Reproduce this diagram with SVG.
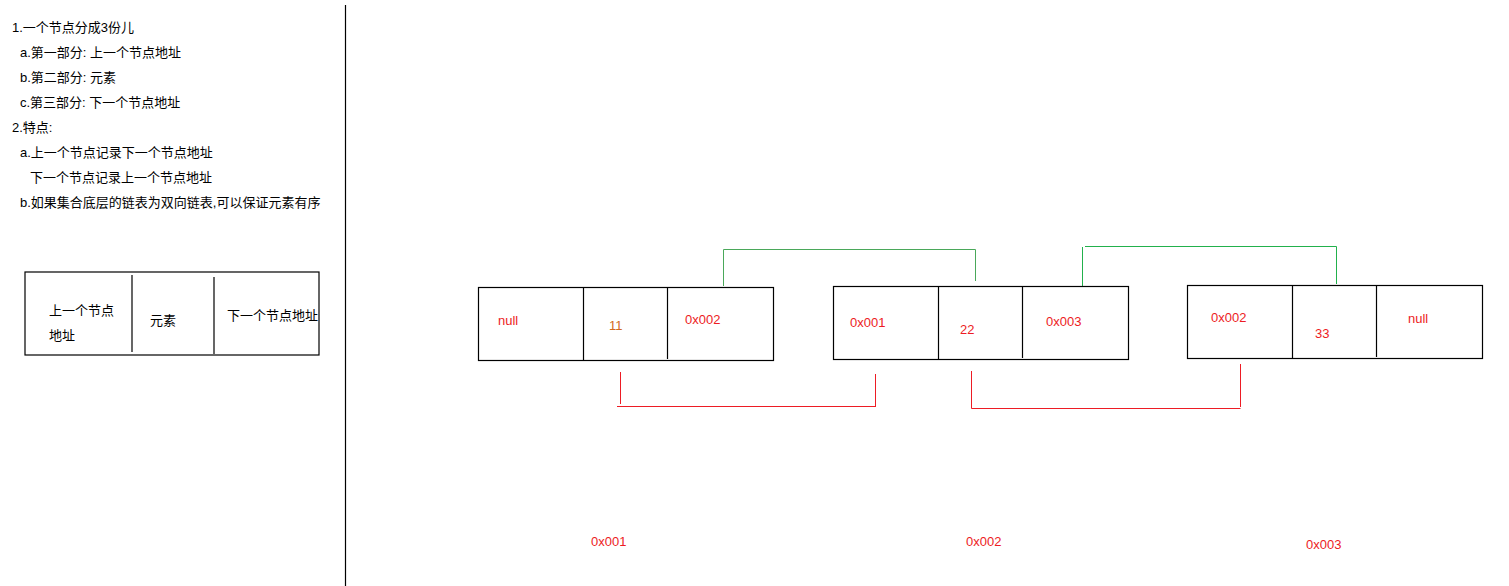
<svg xmlns="http://www.w3.org/2000/svg" width="1509" height="586" viewBox="0 0 1509 586">
<style>
text{font-family:"Liberation Sans","Noto Sans CJK SC",sans-serif;font-size:13px}
.k{fill:#000}
.r{fill:#ed1c24}
.o{fill:#d2691e}
.box{fill:#fff;stroke:#000;stroke-width:1.2}
.div{stroke:#000;stroke-width:1.2}
.g{fill:none;stroke:#22b14c;stroke-width:1}
.g2{fill:none;stroke:#4aa85a;stroke-width:1}
.rl{fill:none;stroke:#ed1c24;stroke-width:1}
</style>
<rect width="1509" height="586" fill="#fff"/>
<g id="notes" class="k">
<text x="12" y="32">1.一个节点分成3份儿</text>
<text x="20" y="57">a.第一部分: 上一个节点地址</text>
<text x="20" y="82">b.第二部分: 元素</text>
<text x="20" y="107">c.第三部分: 下一个节点地址</text>
<text x="12" y="132">2.特点:</text>
<text x="20" y="157">a.上一个节点记录下一个节点地址</text>
<text x="30" y="182">下一个节点记录上一个节点地址</text>
<text x="20" y="207">b.如果集合底层的链表为双向链表,可以保证元素有序</text>
</g>
<g id="legend">
<rect class="box" x="25" y="272" width="294" height="83"/>
<line class="div" x1="132" y1="275" x2="132" y2="352"/>
<line class="div" x1="214" y1="277" x2="214" y2="354"/>
<text class="k" x="49" y="315">上一个节点</text>
<text class="k" x="49" y="340">地址</text>
<text class="k" x="150" y="325">元素</text>
<text class="k" x="227" y="320">下一个节点地址</text>
</g>
<line x1="345.5" y1="5" x2="345.5" y2="586" stroke="#000" stroke-width="1.2"/>
<g id="connectors">
<polyline class="g2" points="723.5,286 723.5,249.5 975.5,249.5 975.5,281"/>
<polyline class="g" points="1082.5,286 1082.5,247"/>
<polyline class="g" points="1085,246.5 1336.5,246.5 1336.5,284"/>
<polyline class="rl" points="620.5,372 620.5,404"/>
<polyline class="rl" points="617,406.5 876,406.5"/>
<polyline class="rl" points="875.5,374 875.5,407"/>
<polyline class="rl" points="971.5,371 971.5,408.5 1240.5,408.5"/>
<polyline class="rl" points="1240.5,364 1240.5,407"/>
</g>
<g id="node1">
<rect class="box" x="478.5" y="287.5" width="295" height="73"/>
<line class="div" x1="583.5" y1="287.5" x2="583.5" y2="360.5"/>
<line class="div" x1="667.5" y1="287.5" x2="667.5" y2="359"/>
<text class="r" x="498" y="325">null</text>
<text class="o" x="609" y="330">11</text>
<text class="r" x="685" y="324">0x002</text>
</g>
<g id="node2">
<rect class="box" x="833.5" y="286.5" width="295" height="73"/>
<line class="div" x1="938.5" y1="286.5" x2="938.5" y2="359.5"/>
<line class="div" x1="1022.5" y1="286.5" x2="1022.5" y2="358"/>
<text class="r" x="850" y="327">0x001</text>
<text class="r" x="960" y="334">22</text>
<text class="r" x="1046" y="326">0x003</text>
</g>
<g id="node3">
<rect class="box" x="1187.5" y="285.5" width="295" height="73"/>
<line class="div" x1="1292.5" y1="285.5" x2="1292.5" y2="358.5"/>
<line class="div" x1="1376.5" y1="285.5" x2="1376.5" y2="357"/>
<text class="r" x="1211" y="322">0x002</text>
<text class="r" x="1315" y="338">33</text>
<text class="r" x="1408" y="323">null</text>
</g>
<g id="addresses">
<text class="r" x="591" y="546">0x001</text>
<text class="r" x="966" y="546">0x002</text>
<text class="r" x="1306" y="549">0x003</text>
</g>
</svg>
